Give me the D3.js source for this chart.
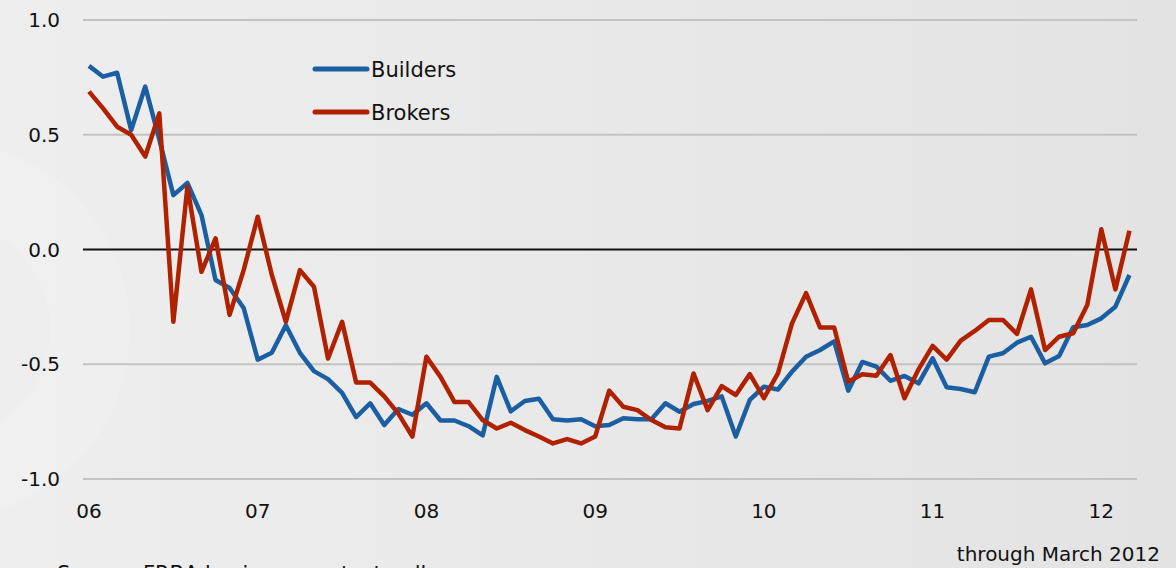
<!DOCTYPE html>
<html>
<head>
<meta charset="utf-8">
<script src="https://cdn.jsdelivr.net/npm/d3@7"></script>
<style>
  html, body { margin: 0; padding: 0; overflow: hidden; }
  body { width: 1176px; height: 568px; }
  text { font-family: "DejaVu Sans", "Noto Sans", sans-serif; fill: #111; }
</style>
</head>
<body>
<div id="chart"></div>
<script>
// Monthly index, Jan 2006 .. Mar 2012
const yearLabels = ["06", "07", "08", "09", "10", "11", "12"];
const yTicks = [-1.0, -0.5, 0.0, 0.5, 1.0];

const builders = [
  0.80, 0.753, 0.77, 0.52, 0.71, 0.48, 0.237, 0.29, 0.15, -0.133, -0.168, -0.255,
  -0.48, -0.45, -0.33, -0.45, -0.53, -0.565, -0.625, -0.73, -0.67, -0.765, -0.695, -0.72,
  -0.67, -0.745, -0.745, -0.77, -0.81, -0.555, -0.705, -0.66, -0.65, -0.74, -0.745, -0.74,
  -0.77, -0.765, -0.735, -0.74, -0.74, -0.67, -0.707, -0.673, -0.66, -0.64, -0.815, -0.655,
  -0.598, -0.61, -0.532, -0.467, -0.438, -0.40, -0.615, -0.49, -0.51, -0.572, -0.551, -0.583,
  -0.474, -0.60, -0.608, -0.622, -0.467, -0.452, -0.406, -0.38, -0.496, -0.464, -0.339, -0.329,
  -0.30, -0.249, -0.111
];

const brokers = [
  0.688, 0.615, 0.535, 0.50, 0.405, 0.593, -0.315, 0.274, -0.097, 0.049, -0.285, -0.09,
  0.143, -0.11, -0.315, -0.09, -0.162, -0.475, -0.315, -0.58, -0.58, -0.64, -0.715, -0.815,
  -0.467, -0.555, -0.665, -0.665, -0.743, -0.78, -0.755, -0.787, -0.815, -0.845, -0.826, -0.845,
  -0.815, -0.615, -0.685, -0.70, -0.743, -0.775, -0.78, -0.54, -0.70, -0.595, -0.634, -0.543,
  -0.648, -0.54, -0.322, -0.19, -0.34, -0.34, -0.576, -0.544, -0.55, -0.46, -0.648, -0.522,
  -0.42, -0.48, -0.397, -0.355, -0.307, -0.307, -0.368, -0.174, -0.438, -0.38, -0.365, -0.242,
  0.088, -0.174, 0.082
];

const seriesNames = ["Builders", "Brokers"];
const seriesColors = ["#1b5fa2", "#b02100"];

function createChart() {
  const width = 1176;
  const height = 568;

  const svg = d3.select("#chart")
    .append("svg")
    .attr("width", width)
    .attr("height", height);

  // background
  const defs = svg.append("defs");
  const grad = defs.append("linearGradient")
    .attr("id", "bg")
    .attr("x1", "0").attr("x2", "1").attr("y1", "0").attr("y2", "0");
  grad.append("stop").attr("offset", "0").attr("stop-color", "#eeeeee");
  grad.append("stop").attr("offset", "1").attr("stop-color", "#e3e3e3");

  svg.append("rect")
    .attr("width", width)
    .attr("height", height)
    .attr("fill", "url(#bg)");

  // faint watermark ring on the left
  svg.append("circle")
    .attr("cx", -60)
    .attr("cy", 330)
    .attr("r", 150)
    .attr("fill", "none")
    .attr("stroke", "#f1f1f1")
    .attr("stroke-width", 80)
    .attr("opacity", 0.45);

  const x = d3.scaleLinear()
    .domain([0, 12])
    .range([89, 89 + 12 * 14.06]);
  const xLeft = 83, xRight = 1137;

  const y = d3.scaleLinear()
    .domain([-1, 1])
    .range([479, 20]);

  // gridlines
  svg.append("g")
    .selectAll("line")
    .data(yTicks.filter(d => d !== 0))
    .join("line")
    .attr("x1", xLeft)
    .attr("x2", xRight)
    .attr("y1", d => y(d))
    .attr("y2", d => y(d))
    .attr("stroke", "#c3c3c3")
    .attr("stroke-width", 2);

  // y labels (plain hyphen for minus, as in the original)
  svg.append("g")
    .selectAll("text")
    .data(yTicks)
    .join("text")
    .attr("x", 60)
    .attr("y", d => y(d) + 7)
    .attr("text-anchor", "end")
    .attr("font-size", 20)
    .text(d => d.toFixed(1));

  // x labels
  svg.append("g")
    .selectAll("text")
    .data(yearLabels)
    .join("text")
    .attr("x", (d, i) => x(i * 12))
    .attr("y", 518)
    .attr("text-anchor", "middle")
    .attr("font-size", 20)
    .text(d => d);

  // zero line
  svg.append("line")
    .attr("x1", xLeft)
    .attr("x2", xRight)
    .attr("y1", y(0))
    .attr("y2", y(0))
    .attr("stroke", "#111")
    .attr("stroke-width", 2);

  const line = d3.line()
    .x((d, i) => x(i))
    .y(d => y(d));

  [builders, brokers].forEach((data, k) => {
    svg.append("path")
      .datum(data)
      .attr("d", line)
      .attr("fill", "none")
      .attr("stroke", seriesColors[k])
      .attr("stroke-width", 4.5)
      .attr("stroke-linejoin", "round");
  });

  // legend
  const legend = svg.append("g");
  seriesNames.forEach((name, k) => {
    const ly = 69 + k * 43;
    legend.append("line")
      .attr("x1", 315)
      .attr("x2", 367)
      .attr("y1", ly)
      .attr("y2", ly)
      .attr("stroke", seriesColors[k])
      .attr("stroke-width", 5)
      .attr("stroke-linecap", "round");
    legend.append("text")
      .attr("x", 371)
      .attr("y", ly + 8)
      .attr("font-size", 21)
      .text(name);
  });

  // notes
  svg.append("text")
    .attr("x", 1160)
    .attr("y", 561)
    .attr("text-anchor", "end")
    .attr("font-size", 20)
    .text("through March 2012");

  svg.append("text")
    .attr("x", 57)
    .attr("y", 581)
    .attr("font-size", 21)
    .text("Source: FRBA business contact poll");
}

createChart();
</script>
</body>
</html>
